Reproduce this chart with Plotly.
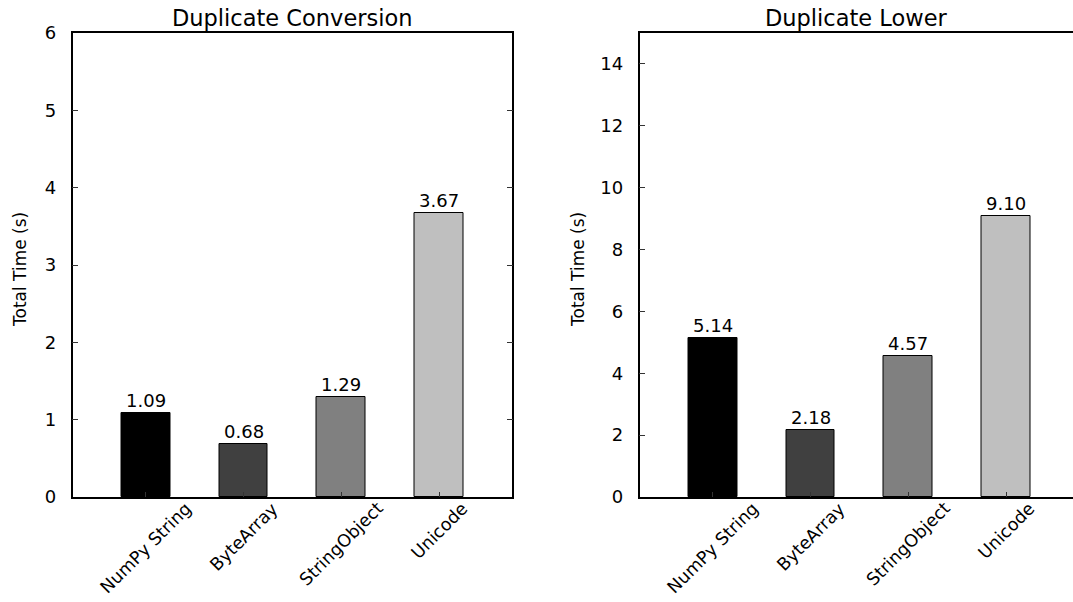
import plotly.graph_objects as go

categories = ["NumPy String", "ByteArray", "StringObject", "Unicode"]
conversion_times = [1.09, 0.68, 1.29, 3.67]
lower_times = [5.14, 2.18, 4.57, 9.10]
bar_colors = ["#000000", "#404040", "#808080", "#bfbfbf"]
titles = ["Duplicate Conversion", "Duplicate Lower"]
ylabel = "Total Time (s)"
left_yticks = [0, 1, 2, 3, 4, 5, 6]
right_yticks = [0, 2, 4, 6, 8, 10, 12, 14]

W, H = 1073, 602
FONT = "DejaVu Sans"
px = lambda v: v / W
py = lambda v: (H - v) / H

dom_left = [px(72.5), px(512.3)]
dom_right = [px(639.5), 1.0]
dom_y = [py(497), py(33)]
unit = (512.3 - 72.5) / 4.5
right_max = -0.75 + (W - 639.5) / unit

fig = go.Figure()
for i, (vals, xa, ya) in enumerate([(conversion_times, "x", "y"), (lower_times, "x2", "y2")]):
    fig.add_trace(go.Bar(
        x=categories, y=vals, xaxis=xa, yaxis=ya, width=0.5,
        marker=dict(color=bar_colors, line=dict(color="black", width=1)),
        showlegend=False, hoverinfo="skip",
    ))

common_x = dict(showline=True, linecolor="black", linewidth=1.5, ticks="inside",
                ticklen=5, tickwidth=1, tickcolor="#333", showticklabels=False,
                showgrid=False, zeroline=False, automargin=False)
common_y = dict(showline=True, linecolor="black", linewidth=1.5, ticks="inside",
                ticklen=6, tickwidth=1, tickcolor="#333", showgrid=False, zeroline=False,
                tickfont=dict(family=FONT, size=18, color="black"), ticklabelstandoff=11,
                automargin=False)

fig.update_layout(
    width=W, height=H, margin=dict(l=0, r=0, t=0, b=0, pad=0, autoexpand=False),
    plot_bgcolor="white", paper_bgcolor="white", bargap=0,
    xaxis=dict(domain=dom_left, anchor="y", range=[-0.75, 3.75], mirror=True, **common_x),
    yaxis=dict(domain=dom_y, anchor="x", range=[0, 6], tickvals=left_yticks, mirror="ticks", **common_y),
    xaxis2=dict(domain=dom_right, anchor="y2", range=[-0.75, right_max], mirror=True, **common_x),
    yaxis2=dict(domain=dom_y, anchor="x2", range=[0, 15], tickvals=right_yticks, mirror=False, **common_y),
)

ann = []
for xa, ya, vals, t, cx, yl in [("x", "y", conversion_times, titles[0], px(292.5), px(20)),
                                ("x2", "y2", lower_times, titles[1], px(856), px(578))]:
    ann.append(dict(text=t, xref="paper", yref="paper", x=cx, y=py(33), xanchor="center",
                    yanchor="bottom", showarrow=False, font=dict(family=FONT, size=22.5, color="black")))
    ann.append(dict(text=ylabel, xref="paper", yref="paper", x=yl, y=py(270), xanchor="center",
                    yanchor="middle", textangle=-90, showarrow=False,
                    font=dict(family=FONT, size=17, color="black")))
    for c, v in zip(categories, vals):
        ann.append(dict(text=c, xref=xa, yref="paper", x=c, y=dom_y[0], xanchor="center",
                        yanchor="top", yshift=1, textangle=-45, showarrow=False,
                        font=dict(family=FONT, size=17.5, color="black")))
        ann.append(dict(text=f"{v:.2f}", xref=xa, yref=ya, x=c, y=v, xanchor="center",
                        yanchor="bottom", yshift=0, showarrow=False,
                        font=dict(family=FONT, size=18, color="black")))
fig.update_layout(annotations=ann)

fig.write_html("out.html")
